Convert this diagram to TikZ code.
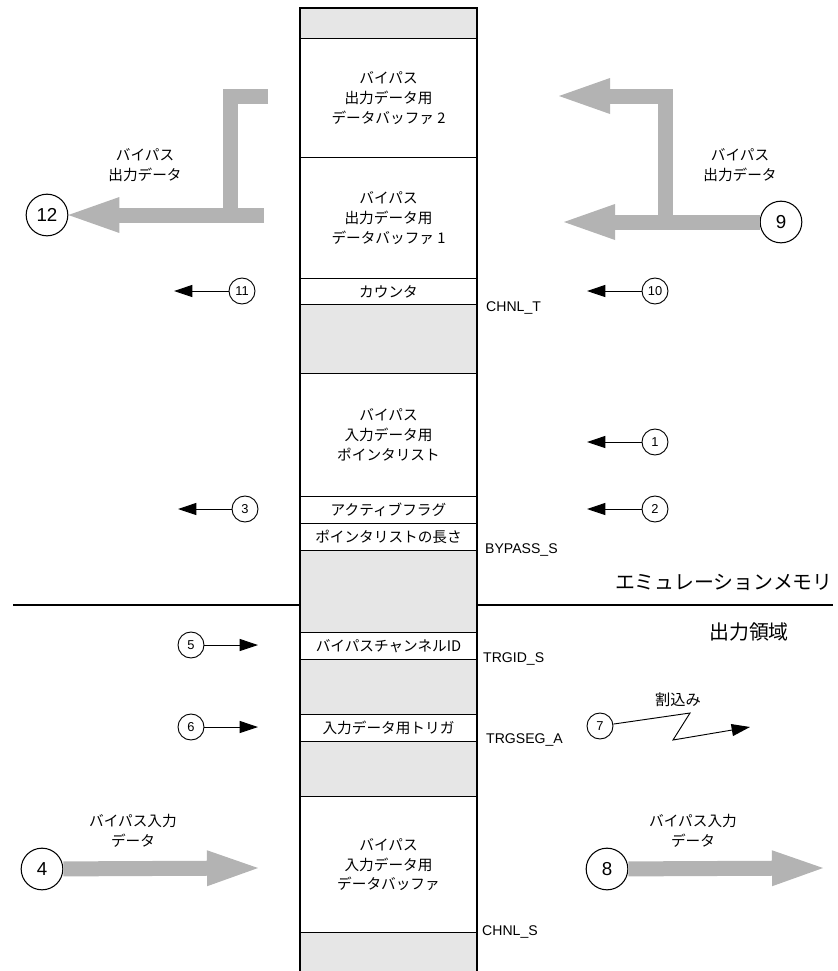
\documentclass[tikz,border=0pt]{standalone}
\usepackage{fontspec}
\setmainfont{Liberation Sans}
\newfontfamily\jpfont{Noto Sans CJK JP}
\usetikzlibrary{arrows.meta}
\definecolor{flowgray}{HTML}{B3B3B3}
\definecolor{cellgray}{HTML}{E6E6E6}
\tikzset{
  cell/.style={draw, line width=1pt, fill=white, minimum width=5.31cm, inner sep=0pt, anchor=north,
    align=center, font=\jpfont\fontsize{12.5}{17}\selectfont},
  num/.style={circle, draw, line width=0.8pt, fill=white, minimum size=0.78cm, inner sep=0pt,
    font=\fontsize{11}{13}\selectfont},
  bignum/.style={circle, draw, line width=0.9pt, fill=white, minimum size=1.25cm, inner sep=0pt,
    font=\fontsize{16}{19}\selectfont},
  lab/.style={align=center, inner sep=0pt, font=\jpfont\fontsize{12.5}{17}\selectfont},
  biglab/.style={inner sep=0pt, font=\jpfont\fontsize{17}{20}\selectfont},
  tag/.style={anchor=west, inner sep=0pt, font=\fontsize{12}{14}\selectfont},
  flow/.style={draw=flowgray, line width=0.45cm, -{Triangle[length=1.53cm, width=1.08cm, line width=0pt]}},
  flowline/.style={draw=flowgray, line width=0.45cm},
  ptr/.style={line width=0.8pt, -{Triangle[length=0.55cm, width=0.36cm]}}
}

\begin{document}
\begin{tikzpicture}[x=0.03cm,y=-0.03cm]
\useasboundingbox (0,0) rectangle (838,971);

% ---------------- Region divider ----------------
\draw[line width=1.7pt] (13,605) -- (300,605);
\draw[line width=1.7pt] (477,605) -- (833,605);
\node[biglab, anchor=east] (emu) at (833,582) {エミュレーションメモリ};
\node[biglab] (outarea) at (749,632) {出力領域};

% ---------------- Memory column ----------------
\fill[cellgray] (300,8) rectangle (477,971);
\node[cell, minimum height=3.57cm] (buf2) at (388.5,38) {バイパス\\出力データ用\\データバッファ 2};
\node[cell, minimum height=3.63cm] (buf1) at (388.5,157) {バイパス\\出力データ用\\データバッファ 1};
\node[cell, minimum height=0.78cm] (cnt) at (388.5,278) {カウンタ};
\node[cell, minimum height=3.69cm] (ptrlist) at (388.5,373) {バイパス\\入力データ用\\ポインタリスト};
\node[cell, minimum height=0.81cm] (flag) at (388.5,496) {アクティブフラグ};
\node[cell, minimum height=0.81cm] (len) at (388.5,523) {ポインタリストの長さ};
\node[cell, minimum height=0.81cm] (chid) at (388.5,632) {バイパスチャンネルID};
\node[cell, minimum height=0.81cm] (trig) at (388.5,714) {入力データ用トリガ};
\node[cell, minimum height=4.08cm] (inbuf) at (388.5,796) {バイパス\\入力データ用\\データバッファ};
\draw[line width=1pt] (300,971) -- (300,8) -- (477,8) -- (477,971);

\node[tag] (chnlt) at (486,308) {CHNL\_T};
\node[tag] (bypass) at (485,550) {BYPASS\_S};
\node[tag] (trgid) at (483,659) {TRGID\_S};
\node[tag] (trgseg) at (486,740) {TRGSEG\_A};
\node[tag] (chnls) at (482,932) {CHNL\_S};

% ---------------- Numbered steps ----------------
\node[num] (c1) at (655,442) {1};
\node[num] (c2) at (655,509) {2};
\node[num] (c3) at (245,509) {3};
\node[num] (c5) at (191,645) {5};
\node[num] (c6) at (191,727) {6};
\node[num] (c7) at (600,726) {7};
\node[num] (c10) at (655,291) {10};
\node[num] (c11) at (242,291) {11};
\node[bignum] (c4) at (42,869) {4};
\node[bignum] (c8) at (607,869) {8};
\node[bignum] (c9) at (781,222) {9};
\node[bignum] (c12) at (47,215) {12};

\coordinate (e1) at (587,442);
\coordinate (e2) at (587,509);
\coordinate (e3) at (178,509);
\coordinate (e5) at (258,645);
\coordinate (e6) at (258,727);
\coordinate (e10) at (587,291);
\coordinate (e11) at (174,291);
\draw[ptr] (c1) -- (e1);
\draw[ptr] (c2) -- (e2);
\draw[ptr] (c3) -- (e3);
\draw[ptr] (c5) -- (e5);
\draw[ptr] (c6) -- (e6);
\draw[ptr] (c10) -- (e10);
\draw[ptr] (c11) -- (e11);

% interrupt
\coordinate (zz1) at (690,713);
\coordinate (zz2) at (673,740);
\coordinate (e7) at (750,727);
\draw[ptr] (c7) -- (zz1) -- (zz2) -- (e7);
\node[lab, font=\jpfont\fontsize{13}{16}\selectfont] (irq) at (678,700) {割込み};

% ---------------- Bypass data flows ----------------
\coordinate (o2s) at (268,96);
\coordinate (o1s) at (264,215);
\coordinate (jl) at (230,215);
\draw[flowline] (o2s) -| (jl);
\draw[flow] (o1s) -- (c12);
\node[lab] (outl) at (145,165) {バイパス\\出力データ};

\coordinate (jr) at (665,222);
\coordinate (i2e) at (559,96);
\coordinate (i1e) at (564,222);
\draw[flow] (jr) |- (i2e);
\draw[flow] (c9) -- (i1e);
\node[lab] (outr) at (740,165) {バイパス\\出力データ};

\coordinate (e4) at (258,868);
\coordinate (e8) at (823,868);
\draw[flow] (c4) -- (e4);
\draw[flow] (c8) -- (e8);
\node[lab] (inl) at (133,831) {バイパス入力\\データ};
\node[lab] (inr) at (693,831) {バイパス入力\\データ};

\end{tikzpicture}
\end{document}
